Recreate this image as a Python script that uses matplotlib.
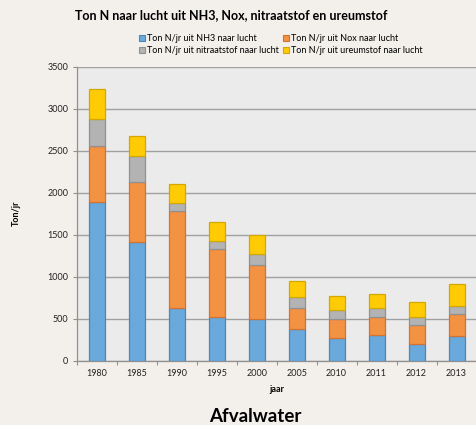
#!/usr/bin/env python3

import numpy as np
import matplotlib
matplotlib.use('Agg')
import matplotlib.pyplot as plt
from matplotlib.patches import Patch

plt.rcParams['font.family'] = ['Lato', 'DejaVu Sans']

years = ['1980', '1985', '1990', '1995', '2000', '2005', '2010', '2011', '2012', '2013']

nh3 = [1893, 1417, 627, 524, 493, 381, 270, 302, 202, 294]
nox = [667, 714, 1155, 802, 650, 243, 230, 222, 219, 262]
nitraat = [321, 309, 99, 103, 124, 138, 104, 103, 103, 92]
ureum = [357, 231, 226, 219, 226, 190, 163, 163, 175, 269]

series_labels = [
	'Ton N/jr uit NH3 naar lucht',
	'Ton N/jr uit Nox naar lucht',
	'Ton N/jr uit nitraatstof naar lucht',
	'Ton N/jr uit ureumstof naar lucht',
]

fill_cols = ['#6aa9dc', '#f39243', '#b3b3b3', '#ffcb05']
edge_cols = ['#4d86b6', '#d27330', '#919191', '#d4a800']

bg = '#f3f0eb'
fig = plt.figure(figsize=(4.76, 4.25), dpi=100, facecolor=bg)
ax = fig.add_axes([0.1611, 0.1513, 0.84, 0.6918])
ax.set_facecolor('#ebebeb')

x = np.arange(len(years))
bottom = np.zeros(len(years))
handles = []
for vals, fc, ec, lab in zip([nh3, nox, nitraat, ureum], fill_cols, edge_cols, series_labels) :
	vals = np.array(vals, dtype=float)
	ax.bar(x, vals, 0.4, bottom=bottom, color=fc, edgecolor=ec, linewidth=0.9, zorder=3)
	bottom = bottom + vals
	handles.append(Patch(facecolor=fc, edgecolor=ec, linewidth=0.8, label=lab))

ax.set_xlim(-0.5, len(years) - 0.5)
ax.set_ylim(0, 3500)
ax.set_yticks(np.arange(0, 3501, 500))
ax.yaxis.grid(True, color='#a0a0a0', linewidth=1.0, zorder=1)
ax.set_axisbelow(True)

ax.set_xticks(x)
ax.set_xticklabels(years, fontsize=6.5, color='#222222')
ax.set_xticks(np.arange(-0.5, len(years)), minor=True)
ax.tick_params(axis='x', which='major', length=0, pad=6)
ax.tick_params(axis='x', which='minor', length=3, color='#909090', width=0.8)
ax.tick_params(axis='y', length=3, color='#909090', width=0.8, labelsize=6.5, labelcolor='#222222', pad=3)

for s in ['top', 'right'] :
	ax.spines[s].set_visible(False)
for s in ['left', 'bottom'] :
	ax.spines[s].set_color('#909090')
	ax.spines[s].set_linewidth(0.9)

ax.set_xlabel('jaar', fontsize=6.5, fontweight='bold', labelpad=5)
ax.set_ylabel('Ton/jr', fontsize=6.5, fontweight='bold', labelpad=19)

fig.text(0.158, 0.965, 'Ton N naar lucht uit NH3, Nox, nitraatstof en ureumstof',
	fontsize=9, fontweight='bold', va='center', ha='left')

order = [handles[0], handles[2], handles[1], handles[3]]
fig.legend(handles=order, loc='center', bbox_to_anchor=(0.59, 0.895), ncol=2,
	frameon=False, fontsize=6.5, handlelength=0.7, handleheight=0.7,
	handletextpad=0.2, columnspacing=0.4, labelspacing=0.4)

fig.text(0.537, 0.019, 'Afvalwater', fontsize=13.5, fontweight='bold', ha='center', va='center')

fig.savefig('out.png', dpi=100, facecolor=bg)
